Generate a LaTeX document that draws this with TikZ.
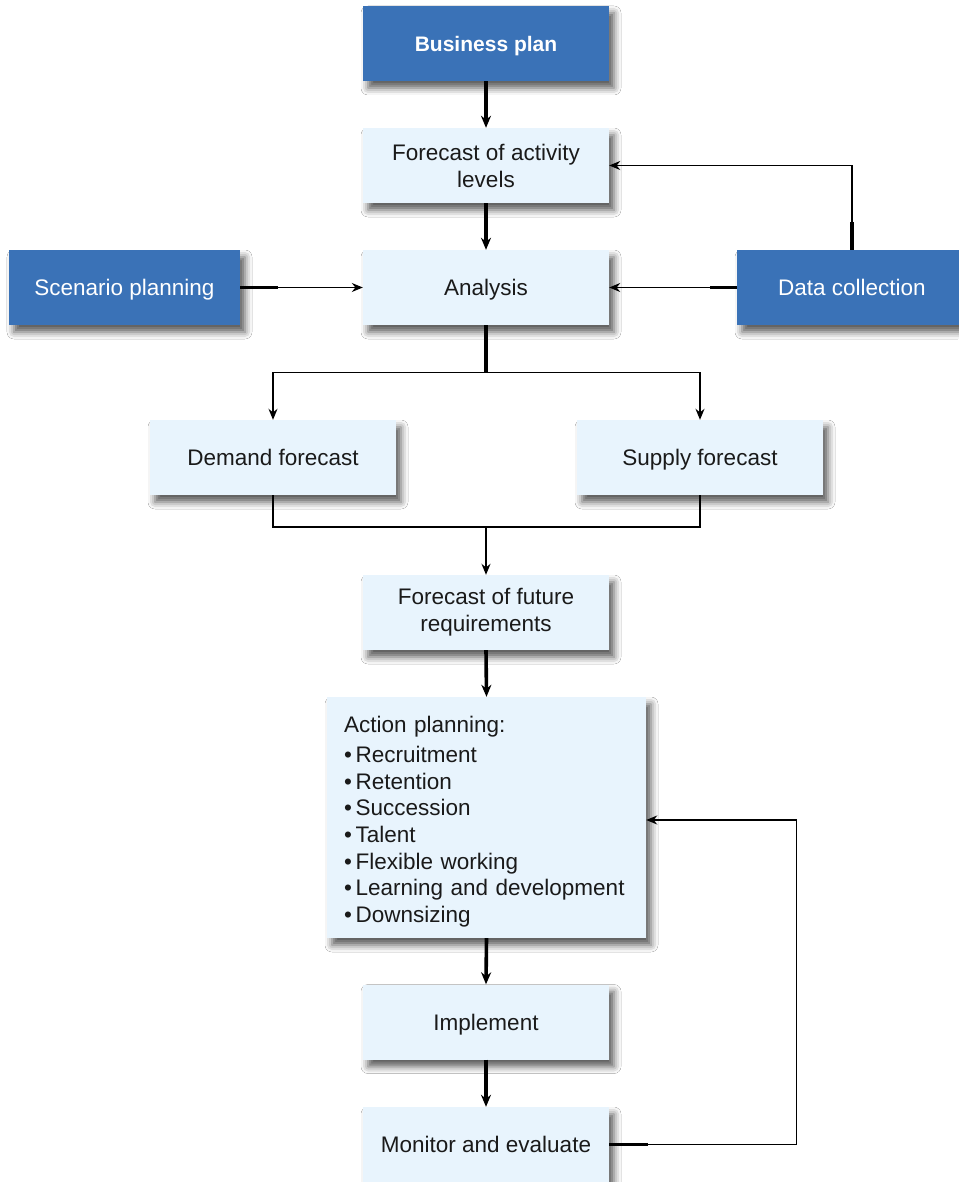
\documentclass[tikz,border=0pt]{standalone}
\usepackage{fontspec}
\setmainfont{Liberation Sans}
\usetikzlibrary{shadows.blur,arrows.meta}
\definecolor{darkblue}{RGB}{58,114,183}
\definecolor{lightblue}{RGB}{232,244,253}
\definecolor{txt}{RGB}{26,26,26}
\begin{document}
\begin{tikzpicture}[x=1pt,y=1pt,
  box/.style={rectangle, inner sep=0pt, minimum height=75pt, minimum width=246pt, align=center,
    font=\fontsize{22.5}{27}\selectfont, text=txt,
    blur shadow={shadow xshift=5pt, shadow yshift=-7pt, shadow blur radius=7pt, shadow opacity=65}},
  oneline/.style={text height=18pt, text depth=2pt},
  light/.style={box, fill=lightblue},
  dark/.style={box, fill=darkblue, text=white},
  thickline/.style={line width=3.6pt},
  hstub/.style={line width=2.8pt},
  thinline/.style={line width=1.4pt},
  thickarr/.style={thickline, -{Stealth[length=12pt,width=10pt]}},
  thinarr/.style={thinline, -{Stealth[length=11pt,width=9pt]}}]
\useasboundingbox (0,0) rectangle (958,-1182);
\fill[white] (0,0) rectangle (958,-1182);
\node[dark, oneline, font=\fontsize{21}{25}\selectfont\bfseries] (bp) at (486,-43.5) {Business plan};
\node[light] (fa) at (486,-165.5) {Forecast of activity\\levels};
\node[light, oneline] (an) at (486,-287.5) {Analysis};
\node[dark, oneline, minimum width=231pt] (sc) at (124.5,-287.5) {Scenario planning};
\node[dark, oneline, minimum width=230pt] (dc) at (852,-287.5) {Data collection};
\node[light, oneline] (df) at (273,-457.5) {Demand forecast};
\node[light, oneline] (sf) at (700,-457.5) {Supply forecast};
\node[light] (ff) at (486,-612.5) {Forecast of future\\requirements};
\node[light, minimum width=319pt, minimum height=241pt, text width=285pt, inner xsep=17pt, align=left] (ap) at (486.5,-817.5)
  {\fontsize{22.5}{26.6}\selectfont\rule{0pt}{24.5pt}Action planning:\\[4pt]
   •\,Recruitment\\
   •\,Retention\\
   •\,Succession\\
   •\,Talent\\
   •\,Flexible working\\
   •\,Learning and development\\
   •\,Downsizing};
\node[light, oneline] (im) at (486,-1022) {Implement};
\node[light, oneline] (me) at (486,-1144.5) {Monitor and evaluate};
% connectors
\draw[thickarr] (bp.south) -- (fa.north);
\draw[thickarr] (fa.south) -- (an.north);
\draw[thinarr] (sc.east) -- (an.west);
\draw[hstub] (sc.east) -- ++(38,0);
\draw[thinarr] (dc.west) -- (an.east);
\draw[hstub] (dc.west) -- ++(-27,0);
\draw[thinarr] (dc.north) |- (fa.east);
\draw[thickline] (dc.north) -- ++(0,28);
\draw[thickline] (an.south) -- ++(0,-47) coordinate (split);
\draw[thinarr] (split) -| (df.north);
\draw[thinarr] (split) -| (sf.north);
\coordinate (join) at (486,-527);
\draw[thinline] (df.south) |- (join) -| (sf.south);
\draw[thinarr] (join) -- (ff.north);
\draw[thickarr] (ff.south) -- (ap.north);
\draw[thickarr] (ap.south) -- (im.north);
\draw[thickarr] (im.south) -- (me.north);
\draw[thinarr] (me.east) -- ++(187,0) |- ([yshift=-2.5pt]ap.east);
\draw[hstub] (me.east) -- ++(39,0);
\end{tikzpicture}
\end{document}
